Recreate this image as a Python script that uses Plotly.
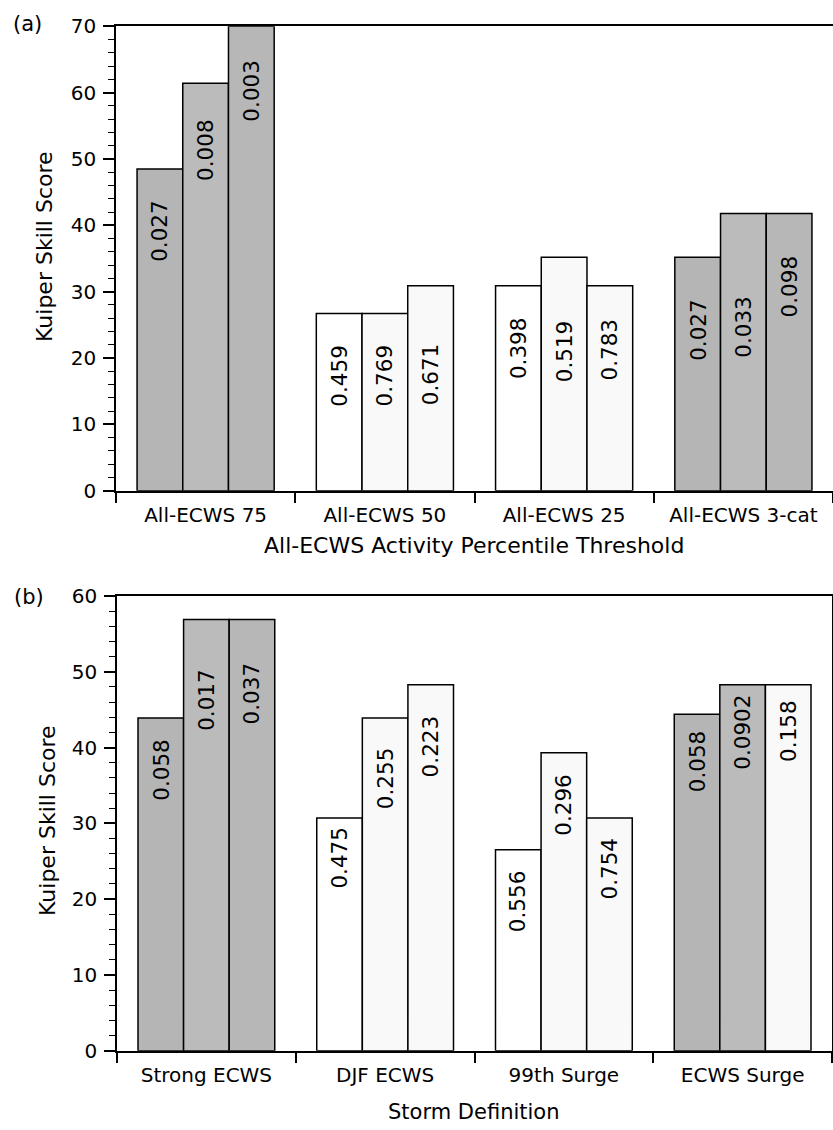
import plotly.graph_objects as go

# ---- Panel (a): All-ECWS activity percentile thresholds ----
categories_a = ["All-ECWS 75", "All-ECWS 50", "All-ECWS 25", "All-ECWS 3-cat"]
kss_a = [
    [48.5, 26.7, 30.9, 35.2],
    [61.4, 26.7, 35.2, 41.8],
    [70.0, 30.9, 30.9, 41.8],
]
pval_a = [
    ["0.027", "0.459", "0.398", "0.027"],
    ["0.008", "0.769", "0.519", "0.033"],
    ["0.003", "0.671", "0.783", "0.098"],
]

# ---- Panel (b): storm definitions ----
categories_b = ["Strong ECWS", "DJF ECWS", "99th Surge", "ECWS Surge"]
kss_b = [
    [43.9, 30.7, 26.5, 44.4],
    [56.9, 43.9, 39.3, 48.3],
    [56.9, 48.3, 30.7, 48.3],
]
pval_b = [
    ["0.058", "0.475", "0.556", "0.058"],
    ["0.017", "0.255", "0.296", "0.0902"],
    ["0.037", "0.223", "0.754", "0.158"],
]

# ---- styling ----
FONT = "DejaVu Sans"
BARGAP = 0.235
SIG_LEVEL = 0.1
GRAY = ["#b5b5b5", "#bbbbbb", "#b7b7b7"]
WHITE = ["#ffffff", "#f9f9f9", "#f9f9f9"]
# pixel gap between each bar's top and the top of its rotated p-value label
drop_a = [[29, 29, 29, 40], [34, 29, 61, 80], [31, 56, 31, 40]]
drop_b = [[19, 7, 18, 14], [47, 27, 19, 8], [41, 29, 17, 13]]

W, H = 833, 1130


def fills(pvals, j):
    return [GRAY[j] if float(p) < SIG_LEVEL else WHITE[j] for p in pvals]


fig = go.Figure()

panels = [
    ("x", "y", kss_a, pval_a, drop_a),
    ("x2", "y2", kss_b, pval_b, drop_b),
]
group_w = (1 - BARGAP) / 3
for xa, ya, kss, pv, drops in panels:
    for j in range(3):
        fig.add_trace(go.Bar(
            x=list(range(4)), y=kss[j], xaxis=xa, yaxis=ya,
            marker=dict(color=fills(pv[j], j), line=dict(color="black", width=1.5)),
            showlegend=False, hoverinfo="skip",
        ))
        for i in range(4):
            fig.add_annotation(
                x=i + (j - 1) * group_w, y=kss[j][i], xref=xa, yref=ya,
                text=pv[j][i], textangle=-90, showarrow=False,
                xanchor="center", yanchor="top", yshift=-drops[j][i],
                font=dict(family=FONT, size=21.5, color="black"),
            )

common_x = dict(
    range=[-0.5, 3.5], tickmode="array", tickvals=[0, 1, 2, 3],
    ticks="", showline=True, linecolor="black", linewidth=1.5, mirror=True,
    showgrid=False, zeroline=False, ticklabelstandoff=6, automargin=False,
    tickfont=dict(family=FONT, size=20, color="black"),
    minor=dict(tickmode="array", tickvals=[-0.5, 0.5, 1.5, 2.5, 3.5],
               ticks="outside", ticklen=11, tickwidth=1.5, tickcolor="black",
               showgrid=False),
)
common_y = dict(
    dtick=10, ticks="outside", ticklen=11, tickwidth=1.5, tickcolor="black",
    showline=True, linecolor="black", linewidth=1.5, showgrid=False,
    zeroline=False, ticklabelstandoff=3, automargin=False,
    tickfont=dict(family=FONT, size=20, color="black"),
    minor=dict(dtick=2, ticks="outside", ticklen=6, tickwidth=1.2,
               tickcolor="black", showgrid=False),
)

fig.update_layout(
    width=W, height=H, margin=dict(l=0, r=0, t=0, b=0, autoexpand=False),
    paper_bgcolor="white", plot_bgcolor="white",
    barmode="group", bargap=BARGAP, bargroupgap=0,
    xaxis=dict(common_x, domain=[116 / W, 1.0], anchor="y", ticktext=categories_a),
    yaxis=dict(common_y, domain=[1 - 490.7 / H, 1 - 26.3 / H], anchor="x",
               range=[0, 70], mirror=False),
    xaxis2=dict(common_x, domain=[117 / W, 832 / W], anchor="y2", ticktext=categories_b),
    yaxis2=dict(common_y, domain=[1 - 1050.7 / H, 1 - 596 / H], anchor="x2",
                range=[0, 60], mirror=True),
)


def paper_text(x_px, y_px, text, size, angle=0):
    fig.add_annotation(x=x_px / W, y=1 - y_px / H, xref="paper", yref="paper",
                       xanchor="center", yanchor="middle",
                       text=text, textangle=angle, showarrow=False,
                       font=dict(family=FONT, size=size, color="black"))


# axis titles and panel tags
paper_text(45, 247, "Kuiper Skill Score", 22, -90)
paper_text(47, 821, "Kuiper Skill Score", 22, -90)
paper_text(474, 545, "All-ECWS Activity Percentile Threshold", 22)
paper_text(474, 1112, "Storm Definition", 21)
paper_text(27, 24, "(a)", 21)
paper_text(29, 597, "(b)", 21)

fig.write_html("out.html")
